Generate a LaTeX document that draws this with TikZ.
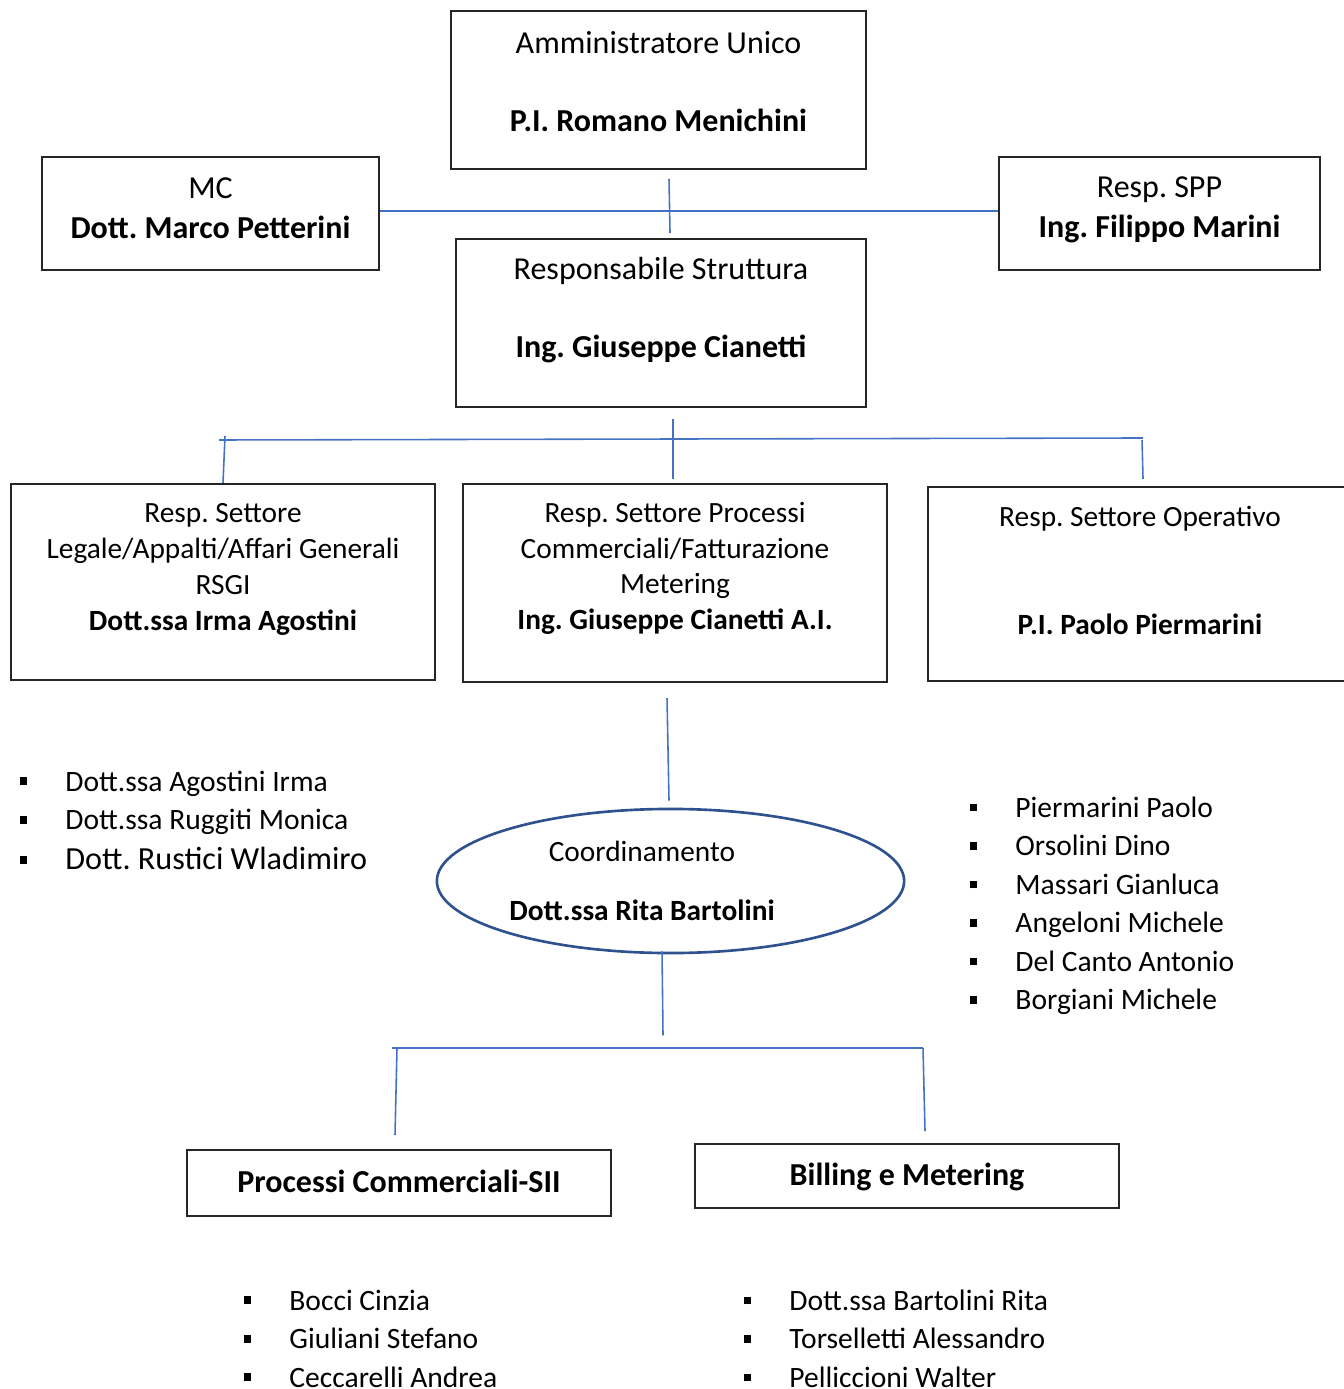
\documentclass[tikz,border=0pt]{standalone}
\usepackage{fontspec}
\setmainfont{Carlito}
\usetikzlibrary{positioning,calc,shapes.geometric}

\definecolor{linkblue}{HTML}{4472C4}
\definecolor{ovalblue}{HTML}{2F528F}

\newcommand{\itm}[1]{\makebox[13pt][l]{\raisebox{1.7pt}{\rule{2.2pt}{2.2pt}}}#1}

\begin{document}
\frenchspacing
\begin{tikzpicture}[x=0.01cm,y=-0.01cm]
\tikzstyle{box}=[draw=black!85,line width=0.55pt,align=center,inner sep=0pt,font=\fontsize{9.1}{10.2}\selectfont]
\tikzstyle{sector}=[box,minimum width=4.24cm,font=\fontsize{8.35}{10.2}\selectfont]
\tikzstyle{link}=[draw=linkblue,line width=0.45pt]
\tikzstyle{names}=[align=left,anchor=north west,inner sep=0pt,font=\fontsize{8.4}{10.95}\selectfont]

\useasboundingbox (0,0) rectangle (1343,1389);

% top level
\node[box,minimum width=4.15cm,minimum height=1.58cm,text depth=4.6pt] (admin) at (658.5,90)
  {Amministratore Unico\\[12pt]\textbf{P.I. Romano Menichini}};
\node[box,minimum width=3.37cm,minimum height=1.13cm,text depth=2.9pt] (mc) at (210.5,213.5)
  {MC\\[1.2pt]\textbf{Dott. Marco Petterini}};
\node[box,minimum width=3.21cm,minimum height=1.13cm,text depth=3.6pt] (spp) at (1159.5,213.5)
  {Resp. SPP\\[1.2pt]\textbf{Ing. Filippo Marini}};
\node[box,minimum width=4.10cm,minimum height=1.68cm,text depth=8.7pt] (struttura) at (661,323)
  {Responsabile Struttura\\[12pt]\textbf{Ing. Giuseppe Cianetti}};

% settori
\node[sector,minimum height=1.96cm,text depth=8.5pt] (legale) at (223,582)
  {Resp. Settore\\Legale/Appalti/Affari Generali\\RSGI\\\textbf{Dott.ssa Irma Agostini}};
\node[sector,minimum height=1.98cm,text depth=9.7pt] (processi) at (675,583)
  {Resp. Settore Processi\\Commerciali/Fatturazione\\Metering\\\textbf{Ing. Giuseppe Cianetti A.I.}};
\node[sector,minimum height=1.94cm,text depth=8pt] (operativo) at (1140,584)
  {Resp. Settore Operativo\\[20.5pt]\textbf{P.I. Paolo Piermarini}};

% coordinamento
\node[draw=ovalblue,line width=0.75pt,ellipse,minimum width=4.67cm,minimum height=1.44cm] (coord) at (670.5,881) {};
\node[align=center,inner sep=0pt,font=\fontsize{8.35}{10.2}\selectfont] (coordtext) at (642,880.5)
  {Coordinamento\\[6.6pt]\textbf{Dott.ssa Rita Bartolini}};

% uffici
\node[box,minimum width=4.24cm,minimum height=0.66cm,text depth=1.1pt,font=\fontsize{9.1}{12}\selectfont\bfseries] (commerciali) at (399,1183)
  {Processi Commerciali-SII};
\node[box,minimum width=4.24cm,minimum height=0.64cm,text depth=0.8pt,font=\fontsize{9.1}{12}\selectfont\bfseries] (billing) at (907,1176)
  {Billing e Metering};

% connectors
\draw[link] ($(mc.east)+(0,-2.5)$) -- ($(spp.west)+(0,-2.5)$);
\draw[link] ($(admin.south)+(10.5,9)$) -- ($(struttura.north)+(9,-5)$);

\coordinate (busL) at (219,440);
\coordinate (busR) at (1143,438);
\draw[link] (busL) -- (busR);
\draw[link] ($(struttura.south)+(12,11)$) -- ($(processi.north)+(-2,-4)$);
\draw[link] ($(legale.north)+(2,-47)$) -- (legale.north);
\draw[link] ($(busR)+(-1,2)$) -- ($(operativo.north)+(3,-7)$);

\draw[link] ($(processi.south)+(-8,15)$) -- ($(coord.north)+(-1.5,-7)$);
\draw[link] ($(coord.south)+(-8.5,-3)$) -- ($(coord.south)+(-7.5,81)$);

\coordinate (busB) at (392,1048);
\coordinate (busBR) at (923,1048);
\draw[link] (busB) -- (busBR);
\draw[link] ($(busB)+(5,0)$) -- ($(commerciali.north)+(-4,-14)$);
\draw[link] (busBR) -- ($(billing.north)+(18,-12)$);

% elenchi
\node[names] (listlegale) at (19,770)
  {\itm{Dott.ssa Agostini Irma}\\\itm{Dott.ssa Ruggiti Monica}\\[0.4pt]{\fontsize{9.15}{10.95}\selectfont\itm{Dott. Rustici Wladimiro}}};
\node[names] (listoperativo) at (969,796)
  {\itm{Piermarini Paolo}\\\itm{Orsolini Dino}\\\itm{Massari Gianluca}\\\itm{Angeloni Michele}\\\itm{Del Canto Antonio}\\\itm{Borgiani Michele}};
\node[names] (listcommerciali) at (243,1289)
  {\itm{Bocci Cinzia}\\\itm{Giuliani Stefano}\\\itm{Ceccarelli Andrea}};
\node[names] (listbilling) at (743,1289)
  {\itm{Dott.ssa Bartolini Rita}\\\itm{Torselletti Alessandro}\\\itm{Pelliccioni Walter}};
\end{tikzpicture}
\end{document}
